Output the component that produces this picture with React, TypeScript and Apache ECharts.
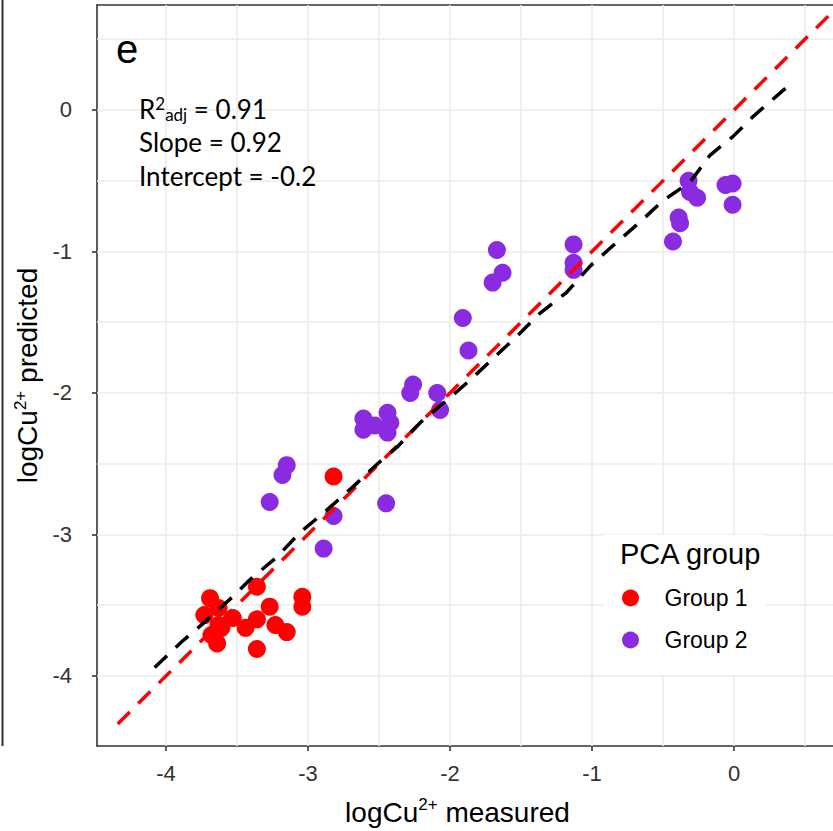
import React, { useEffect, useRef } from "react";
import * as echarts from "echarts";

// ---- data ----
const xTicks = [-4, -3, -2, -1, 0];
const yTicks = [-4, -3, -2, -1, 0];
const xGridValues = [-4, -3.5, -3, -2.5, -2, -1.5, -1, -0.5, 0, 0.5];
const yGridValues = [-4, -3.5, -3, -2.5, -2, -1.5, -1, -0.5, 0, 0.5];

const group1Measured = [-3.69, -3.36, -3.27, -3.04, -3.04, -3.73, -3.63, -3.53, -3.63, -3.68, -3.61, -3.64, -3.44, -3.36, -3.23, -3.15, -3.36, -2.82];
const group1Predicted = [-3.45, -3.37, -3.51, -3.44, -3.51, -3.57, -3.52, -3.59, -3.64, -3.71, -3.66, -3.77, -3.66, -3.60, -3.64, -3.69, -3.81, -2.59];

const group2Measured = [-3.15, -3.18, -3.27, -2.82, -2.89, -2.61, -2.61, -2.53, -2.44, -2.42, -2.44, -2.26, -2.28, -2.09, -2.07, -2.45, -1.67, -1.63, -1.70, -1.91, -1.87, -1.13, -1.13, -1.13, -0.32, -0.31, -0.26, -0.39, -0.38, -0.43, -0.06, -0.01, -0.01];
const group2Predicted = [-2.51, -2.58, -2.77, -2.87, -3.10, -2.18, -2.26, -2.23, -2.14, -2.21, -2.28, -1.94, -2.00, -2.00, -2.12, -2.78, -0.99, -1.15, -1.22, -1.47, -1.70, -0.95, -1.08, -1.13, -0.50, -0.58, -0.62, -0.76, -0.80, -0.93, -0.53, -0.52, -0.67];

const oneToOneX = [-4.34, 0.68];
const oneToOneY = [-4.34, 0.68];

const fitX = [-4.08, -3.88, -3.74, -3.53, -3.41, -3.22, -3.06, -2.87, -2.68, -2.51, -2.37, -2.21, -2.02, -1.86, -1.53, -1.37, -1.18, -1.01, -0.82, -0.66, -0.5, -0.31, -0.17, -0.01, 0.13, 0.37];
const fitY = [-3.94, -3.75, -3.63, -3.44, -3.32, -3.16, -2.99, -2.83, -2.66, -2.5, -2.38, -2.21, -2.05, -1.91, -1.6, -1.44, -1.29, -1.1, -0.93, -0.79, -0.64, -0.51, -0.32, -0.19, -0.05, 0.16];

const seriesNames = ["Group 1", "Group 2"];
const legendTitle = "PCA group";
const statsLines = ["Slope = 0.92", "Intercept = -0.2"];
const r2Value = " = 0.91";
const panelLetter = "e";

const X_MIN = -4.486;
const X_MAX = 0.697;
const Y_MIN = -4.495;
const Y_MAX = 0.742;

const zip = (a: number[], b: number[]) => a.map((v, i) => [v, b[i]]);

const AXIS_COLOR = "#333333";
const RED = "#ff0000";
const PURPLE = "#8a2be2";
const ARIAL = "'Liberation Sans', Arial, sans-serif";
const CAL = "Lato, 'Open Sans', sans-serif";

export default function App() {
  const ref = useRef<HTMLDivElement>(null);
  useEffect(() => {
    if (!ref.current) return;
    const chart = echarts.init(ref.current, undefined, { renderer: "svg" });
    const nameRich = {
      a: { fontSize: 28, lineHeight: 32, fontFamily: ARIAL, color: "#000" },
      s: { fontSize: 17, lineHeight: 17, fontFamily: ARIAL, color: "#000", verticalAlign: "top" },
    };
    const axisLineStyle = { color: AXIS_COLOR, width: 1.6 };
    const txt = (x: number, y: number, text: string, font: string) => ({
      type: "text",
      z: 100,
      x,
      y,
      style: { text, font, fill: "#000", verticalAlign: "middle" },
    });
    const option: any = {
      animation: false,
      backgroundColor: "#ffffff",
      grid: { left: 97, top: 5, right: 0, bottom: 85 },
      xAxis: [
        {
          type: "value",
          min: X_MIN,
          max: X_MAX,
          position: "bottom",
          axisLine: { show: true, onZero: false, lineStyle: axisLineStyle },
          axisTick: { show: true, length: 5, customValues: xTicks, lineStyle: axisLineStyle },
          axisLabel: { customValues: xTicks, fontSize: 22, color: "#333", fontFamily: ARIAL, margin: 16 },
          splitLine: { show: false },
          name: "{a|logCu}{s|2+}{a| measured}",
          nameLocation: "middle",
          nameGap: 50,
          nameTextStyle: { rich: nameRich, padding: [0, 15, 0, 0] },
        },
        {
          type: "value",
          min: X_MIN,
          max: X_MAX,
          position: "top",
          axisLine: { show: true, onZero: false, lineStyle: axisLineStyle },
          axisTick: { show: false },
          axisLabel: { show: false },
          splitLine: { show: false },
        },
      ],
      yAxis: [
        {
          type: "value",
          min: Y_MIN,
          max: Y_MAX,
          position: "left",
          axisLine: { show: true, onZero: false, lineStyle: axisLineStyle },
          axisTick: { show: true, length: 5, customValues: yTicks, lineStyle: axisLineStyle },
          axisLabel: { customValues: yTicks, fontSize: 22, color: "#333", fontFamily: ARIAL, margin: 25 },
          splitLine: { show: false },
          name: "{a|logCu}{s|2+}{a| predicted}",
          nameLocation: "middle",
          nameGap: 43,
          nameTextStyle: { rich: nameRich },
        },
      ],
      legend: {
        data: seriesNames,
        orient: "vertical",
        left: 603,
        top: 535,
        padding: [48, 18, 20, 19],
        backgroundColor: "#ffffff",
        icon: "circle",
        itemWidth: 40,
        itemHeight: 17,
        itemGap: 12,
        z: 10,
        textStyle: { fontSize: 23, lineHeight: 24, fontFamily: ARIAL, color: "#000", padding: [6, 0, 0, 9] },
        selectedMode: false,
      },
      graphic: [
        { type: "line", shape: { x1: 2.5, y1: 0, x2: 2.5, y2: 746 }, style: { stroke: AXIS_COLOR, lineWidth: 2 } },
        txt(116, 49, panelLetter, `40px ${ARIAL}`),
        {
          type: "text",
          z: 100,
          x: 139,
          y: 109,
          style: {
            text: `{r|R}{sup|2}{sub|adj}{r|${r2Value}}`,
            fill: "#000",
            verticalAlign: "middle",
            rich: {
              r: { fontSize: 26, lineHeight: 28, fontFamily: CAL, fill: "#000", color: "#000" },
              sup: { fontSize: 17, lineHeight: 14, fontFamily: CAL, fill: "#000", color: "#000", verticalAlign: "top" },
              sub: { fontSize: 17, lineHeight: 14, fontFamily: CAL, fill: "#000", color: "#000", verticalAlign: "bottom" },
            },
          },
        },
        txt(139, 142, statsLines[0], `26px ${CAL}`),
        txt(139, 176, statsLines[1], `26px ${CAL}`),
        txt(620, 554, legendTitle, `29px ${ARIAL}`),
      ],
      series: [
        {
          type: "line",
          data: [],
          silent: true,
          z: 1,
          markLine: {
            silent: true,
            z: 1,
            symbol: ["none", "none"],
            label: { show: false },
            lineStyle: { color: "#ebebeb", width: 1.6, type: "solid" },
            emphasis: { disabled: true },
            data: [
              ...xGridValues.map((v) => ({ xAxis: v })),
              ...yGridValues.map((v) => ({ yAxis: v })),
            ],
          },
        },
        {
          name: seriesNames[0],
          type: "scatter",
          data: zip(group1Measured, group1Predicted),
          symbol: "circle",
          symbolSize: 18,
          itemStyle: { color: RED, opacity: 1 },
          emphasis: { disabled: true },
        },
        {
          name: seriesNames[1],
          type: "scatter",
          data: zip(group2Measured, group2Predicted),
          symbol: "circle",
          symbolSize: 18,
          itemStyle: { color: PURPLE, opacity: 1 },
          emphasis: { disabled: true },
        },
        {
          type: "line",
          data: zip(oneToOneX, oneToOneY),
          symbol: "none",
          silent: true,
          lineStyle: { color: RED, width: 3.5, type: [17, 12] },
          emphasis: { disabled: true },
        },
        {
          type: "line",
          data: zip(fitX, fitY),
          symbol: "none",
          silent: true,
          lineStyle: { color: "#000", width: 3.5, type: [17, 12] },
          emphasis: { disabled: true },
        },
      ],
    };
    chart.setOption(option);
    return () => chart.dispose();
  }, []);
  return (
    <div
      ref={ref}
      style={{ position: "absolute", left: 0, top: 0, width: 833, height: 831 }}
    />
  );
}
